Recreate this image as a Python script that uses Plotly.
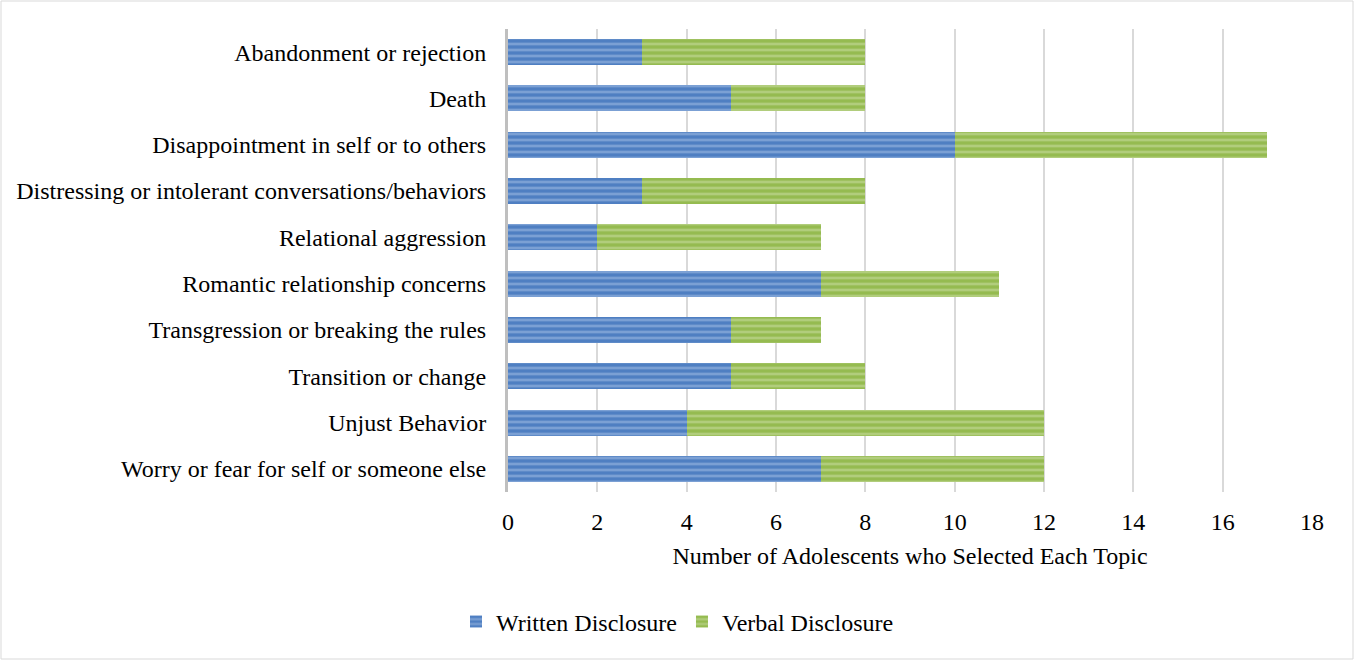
import plotly.graph_objects as go

categories = [
    "Abandonment or rejection",
    "Death",
    "Disappointment in self or to others",
    "Distressing or intolerant conversations/behaviors",
    "Relational aggression",
    "Romantic relationship concerns",
    "Transgression or breaking the rules",
    "Transition or change",
    "Unjust Behavior",
    "Worry or fear for self or someone else",
]
written = [3, 5, 10, 3, 2, 7, 5, 5, 4, 7]
verbal = [5, 3, 7, 5, 5, 4, 2, 3, 8, 5]
x_ticks = [0, 2, 4, 6, 8, 10, 12, 14, 16, 18]

W, H = 1355, 661
L, R, T, B = 508, 43, 29, 169
pw, ph = W - L - R, H - T - B

fig = go.Figure()
fig.add_trace(go.Bar(
    y=categories, x=written, orientation="h", name="Written Disclosure",
    marker=dict(color="#4f7fc2", line=dict(width=0),
                pattern=dict(shape="-", fgcolor="#a8c2e6", bgcolor="#4f7fc2",
                             size=6, solidity=0.45)),
))
fig.add_trace(go.Bar(
    y=categories, x=verbal, orientation="h", name="Verbal Disclosure",
    marker=dict(color="#95bb50", line=dict(width=0),
                pattern=dict(shape="-", fgcolor="#cde0a8", bgcolor="#95bb50",
                             size=6, solidity=0.45)),
))

font = dict(family="Liberation Serif, Times New Roman, serif", size=24, color="#000000")

fig.update_layout(
    width=W, height=H,
    barmode="stack", bargap=0.44,
    margin=dict(l=L, r=R, t=T, b=B, autoexpand=False),
    paper_bgcolor="white", plot_bgcolor="white",
    font=font,
    showlegend=True,
    legend=dict(orientation="h", xref="container", yref="container",
                x=0.5, xanchor="center", y=0.059, yanchor="middle",
                font=font, itemwidth=30, traceorder="normal"),
    xaxis=dict(range=[0, 18], tickvals=x_ticks, showgrid=True,
               gridcolor="#d9d9d9", gridwidth=1.5, zeroline=False,
               ticks="outside", ticklen=8, tickcolor="rgba(0,0,0,0)",
               tickfont=font,
               title=dict(text="Number of Adolescents who Selected Each Topic",
                          font=font, standoff=13),
               showline=False, fixedrange=True),
    yaxis=dict(autorange="reversed", showgrid=False, zeroline=False,
               ticks="outside", ticklen=14, tickcolor="rgba(0,0,0,0)",
               tickfont=font, showline=True, linecolor="#bfbfbf", linewidth=3,
               fixedrange=True),
    shapes=[dict(type="rect", xref="paper", yref="paper",
                 x0=(1 - L) / pw, x1=(W - 2 - L) / pw,
                 y0=(T + ph - (H - 2)) / ph, y1=(T + ph - 1) / ph,
                 line=dict(color="#d9d9d9", width=1), layer="below")],
)

fig.write_html("out.html", config={"displayModeBar": False},
               post_script="document.body.style.margin='0';document.body.style.overflow='hidden';")
